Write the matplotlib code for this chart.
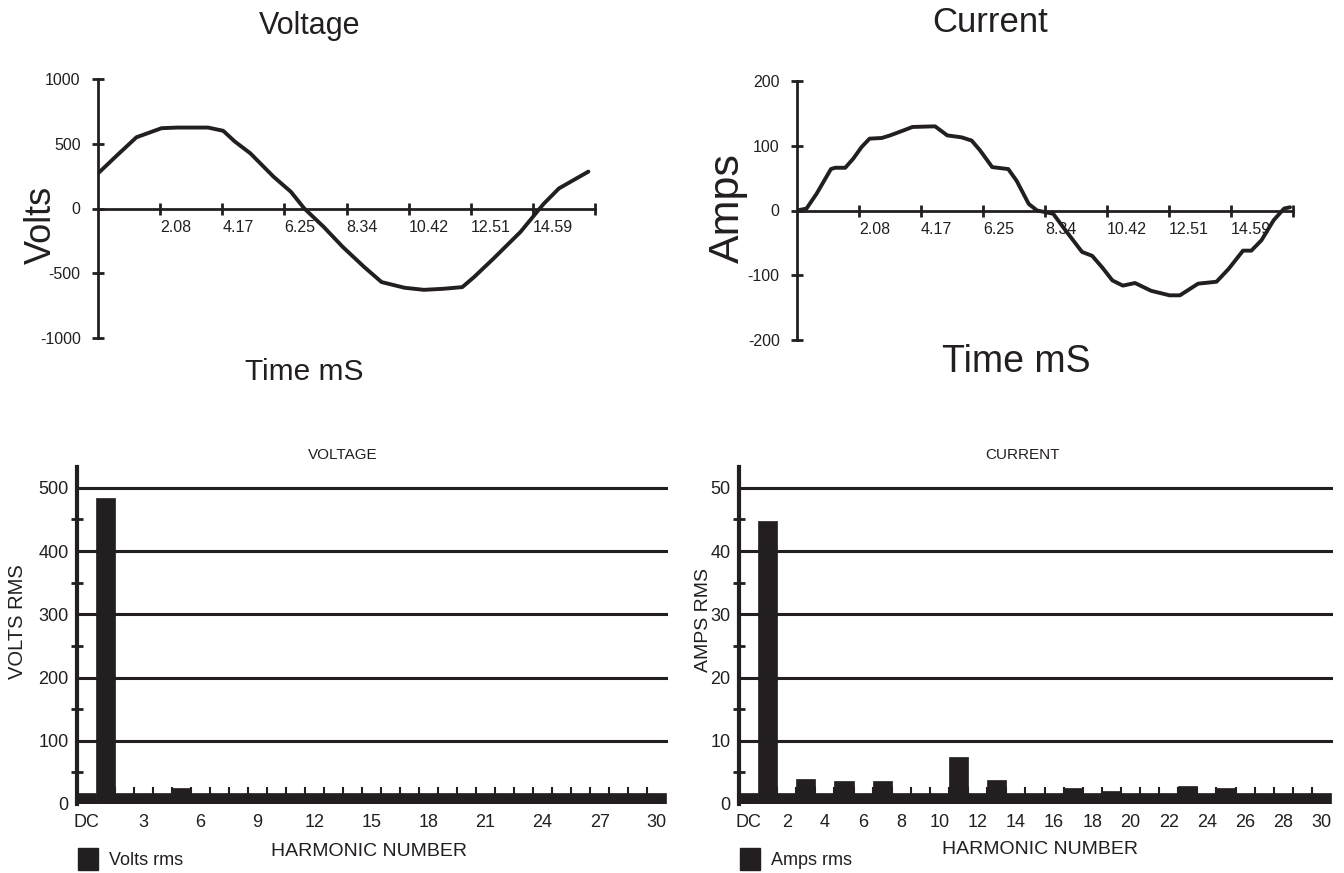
import matplotlib
matplotlib.use("Agg")
import matplotlib.pyplot as plt
from matplotlib.patches import Patch

plt.rcParams['font.family'] = ['Liberation Sans Narrow', 'Liberation Sans', 'DejaVu Sans']
plt.rcParams['axes.unicode_minus'] = False
INK = '#231f20'

# waveform samples (ms, value)
volt_t = [0, 0.71, 1.29, 2.13, 2.65, 3.69, 4.2, 4.59, 5.11, 5.89, 6.47, 6.92, 7.57,
          8.21, 8.93, 9.51, 10.28, 10.93, 11.58, 12.22, 12.61, 13.26, 14.17, 14.94,
          15.46, 16.45]
volt_v = [271, 426, 550, 620, 625, 625, 600, 517, 426, 245, 129, 0, -142,
          -297, -452, -568, -612, -628, -620, -607, -530, -388, -181, 34,
          155, 285]

amp_t = [0, 0.32, 0.66, 1.14, 1.28, 1.62, 1.89, 2.17, 2.44, 2.85, 3.13, 3.54, 3.88,
         4.64, 5.05, 5.53, 5.87, 6.15, 6.56, 7.1, 7.38, 7.79, 8.07, 8.61, 9.03,
         9.58, 9.92, 10.26, 10.6, 10.95, 11.36, 11.9, 12.52, 12.87, 13.48, 14.1,
         14.51, 14.99, 15.27, 15.61, 16.02, 16.37, 16.57]
amp_v = [0, 3, 26, 64, 66, 66, 80, 98, 111, 112, 116, 123, 129,
         130, 116, 113, 108, 93, 67, 64, 46, 10, 0, -5, -31,
         -64, -70, -88, -108, -116, -112, -124, -131, -131, -113, -110,
         -90, -62, -62, -46, -15, 3, 5]

time_ticks = [2.08, 4.17, 6.25, 8.34, 10.42, 12.51, 14.59, 16.67]
time_labels = ['2.08', '4.17', '6.25', '8.34', '10.42', '12.51', '14.59', '']

# harmonic spectra (index 0 = DC, 1..30)
harmonics = list(range(31))
volts_rms = [17, 484, 17, 17, 17, 25] + [17] * 25
amps_rms = [1.8, 44.7, 1.8, 3.9, 1.8, 3.7, 1.8, 3.7, 1.8, 1.8, 1.8, 7.4, 1.8, 3.8,
            1.8, 1.8, 1.8, 2.5, 1.8, 2.1, 1.8, 1.8, 1.8, 2.9, 1.8, 2.6,
            1.8, 1.8, 1.8, 1.8, 1.8]

W, H = 1344, 873
fig = plt.figure(figsize=(W / 100, H / 100), dpi=100)


def rect(x0, y0, x1, y1):
    # pixel box (top-left origin) -> figure fraction
    return [x0 / W, 1 - y1 / H, (x1 - x0) / W, (y1 - y0) / H]


def label(x, y, s, size, rot=0):
    fig.text(x / W, 1 - y / H, s, fontsize=size, color=INK, rotation=rot,
             ha='center', va='center')


def wave_axes(r, t, v, ylim, yticks):
    ax = fig.add_axes(r)
    ax.plot(t, v, color=INK, lw=2.8, solid_capstyle='round')
    ax.set_xlim(0, 16.67)
    ax.set_ylim(*ylim)
    ax.spines['top'].set_visible(False)
    ax.spines['right'].set_visible(False)
    ax.spines['bottom'].set_position('zero')
    for s in ('left', 'bottom'):
        ax.spines[s].set_linewidth(2)
        ax.spines[s].set_color(INK)
    ax.set_yticks(yticks)
    ax.set_xticks(time_ticks)
    ax.set_xticklabels(time_labels, ha='left')
    ax.tick_params(axis='both', direction='inout', length=9, width=2, color=INK,
                   labelsize=11.5, labelcolor=INK)
    ax.tick_params(axis='x', pad=4)
    ax.tick_params(axis='y', pad=8)
    ax.patch.set_alpha(0)
    return ax


wave_axes(rect(98, 79, 595, 338), volt_t, volt_v, (-1000, 1000),
          [-1000, -500, 0, 500, 1000])
wave_axes(rect(797, 81, 1293, 340), amp_t, amp_v, (-200, 200),
          [-200, -100, 0, 100, 200])

label(310, 26, 'Voltage', 22)
label(990, 23, 'Current', 25)
label(41, 225, 'Volts', 26, 90)
label(728, 208, 'Amps', 31, 90)
label(304, 372, 'Time mS', 21.5)
label(1016, 362, 'Time mS', 27)


def bar_axes(r, vals, ymax, ystep, xstep, legend_label):
    ax = fig.add_axes(r)
    ax.bar(harmonics, vals, width=1.0, color=INK, edgecolor=INK, lw=0.5, zorder=2)
    ax.set_xlim(-0.5, 30.6)
    ax.set_ylim(0, ymax)
    for s in ('top', 'right', 'bottom'):
        ax.spines[s].set_visible(False)
    ax.spines['left'].set_linewidth(3)
    ax.spines['left'].set_color(INK)
    major = [ystep * k for k in range(6)]
    ax.set_yticks(major)
    ax.set_yticks([m + ystep / 2 for m in major[:-1]], minor=True)
    for m in major[1:]:
        ax.axhline(m, color=INK, lw=2.2, zorder=1)
    ticks = list(range(0, 31, xstep))
    ax.set_xticks(ticks)
    ax.set_xticklabels(['DC'] + [str(x) for x in ticks[1:]])
    ax.set_xticks([k + 0.5 for k in range(1, 30)], minor=True)
    ax.tick_params(axis='x', which='major', length=0, pad=7, labelsize=13, labelcolor=INK)
    ax.tick_params(axis='x', which='minor', direction='in', length=12.5, width=1.5, color=INK)
    ax.tick_params(axis='y', which='major', length=0, pad=6, labelsize=13, labelcolor=INK)
    ax.tick_params(axis='y', which='minor', direction='inout', length=8, width=2, color=INK)
    ax.legend(handles=[Patch(color=INK, label=legend_label)], loc='upper left',
              bbox_to_anchor=(-0.01, -0.11), frameon=False, fontsize=13,
              handlelength=1.1, handleheight=1.5, handletextpad=0.6, borderaxespad=0,
              labelcolor=INK)
    return ax


bar_axes(rect(77, 467, 668, 804), volts_rms, 533, 100, 3, 'Volts rms')
bar_axes(rect(739, 467, 1333, 804), amps_rms, 53.3, 10, 2, 'Amps rms')

label(343, 455, 'VOLTAGE', 11)
label(1022, 455, 'CURRENT', 11)
label(18, 622, 'VOLTS RMS', 14.5, 90)
label(703, 620, 'AMPS RMS', 14, 90)
label(369, 852, 'HARMONIC NUMBER', 14)
label(1040, 850, 'HARMONIC NUMBER', 14)

fig.savefig('out.png', dpi=100, facecolor='white')
